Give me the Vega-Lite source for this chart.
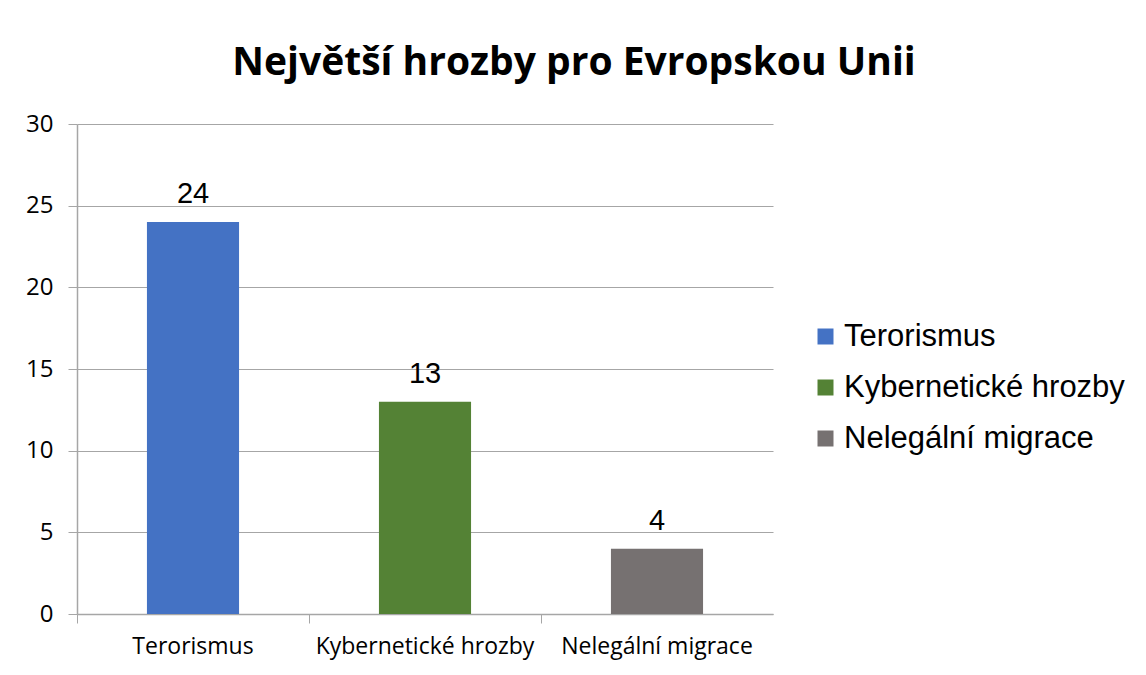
{
  "$schema": "https://vega.github.io/schema/vega-lite/v6.json",
  "width": 696,
  "height": 490,
  "autosize": "none",
  "padding": {"left": 77, "top": 124, "right": 373, "bottom": 61},
  "background": "white",
  "title": {
    "text": "Největší hrozby pro Evropskou Unii",
    "font": "Open Sans",
    "fontWeight": "bold",
    "fontSize": 39,
    "color": "#000000",
    "anchor": "middle",
    "frame": "group",
    "baseline": "alphabetic",
    "dx": 149,
    "offset": -2
  },
  "data": {
    "values": [
      {"kategorie": "Terorismus", "pocet": 24},
      {"kategorie": "Kybernetické hrozby", "pocet": 13},
      {"kategorie": "Nelegální migrace", "pocet": 4}
    ]
  },
  "encoding": {
    "x": {
      "field": "kategorie",
      "type": "nominal",
      "sort": null,
      "scale": {"paddingInner": 0, "paddingOuter": 0},
      "axis": {
        "title": null,
        "labelAngle": 0,
        "labelFont": "Open Sans",
        "labelFontSize": 23,
        "labelColor": "#000000",
        "labelPadding": 12,
        "labelLimit": 300,
        "bandPosition": 0,
        "tickColor": "#A6A6A6",
        "tickSize": 9,
        "domainColor": "#A6A6A6",
        "domainWidth": 1.5,
        "grid": false
      }
    },
    "y": {
      "field": "pocet",
      "type": "quantitative",
      "scale": {"domain": [0, 30], "nice": false},
      "axis": {
        "title": null,
        "values": [0, 5, 10, 15, 20, 25, 30],
        "labelFont": "Open Sans",
        "labelFontSize": 24,
        "labelColor": "#000000",
        "labelPadding": 15,
        "tickColor": "#A6A6A6",
        "tickSize": 9,
        "domainColor": "#A6A6A6",
        "domainWidth": 1.5,
        "gridColor": "#A6A6A6",
        "gridWidth": 1.2
      }
    }
  },
  "layer": [
    {
      "mark": {"type": "bar", "width": {"band": 0.397}},
      "encoding": {
        "color": {
          "field": "kategorie",
          "type": "nominal",
          "sort": null,
          "scale": {
            "domain": ["Terorismus", "Kybernetické hrozby", "Nelegální migrace"],
            "range": ["#4472C4", "#548235", "#767171"]
          },
          "legend": {
            "title": null,
            "orient": "none",
            "legendX": 733,
            "legendY": 197,
            "symbolType": "square",
            "symbolSize": 256,
            "symbolStrokeWidth": 0,
            "labelFont": "Liberation Sans",
            "labelFontSize": 31,
            "labelColor": "#000000",
            "labelOffset": 3,
            "rowPadding": 19,
            "labelLimit": 400
          }
        }
      }
    },
    {
      "mark": {
        "type": "text",
        "font": "Liberation Sans",
        "fontSize": 29,
        "color": "#000000",
        "baseline": "alphabetic",
        "dy": -19
      },
      "encoding": {
        "text": {"field": "pocet", "type": "quantitative"}
      }
    }
  ],
  "config": {
    "view": {"stroke": null}
  }
}
